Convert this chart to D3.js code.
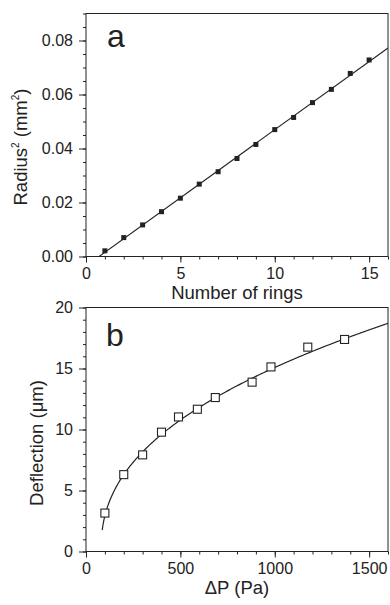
<!DOCTYPE html>
<html>
<head>
<meta charset="utf-8">
<title>Rings and deflection</title>
<script src="https://cdn.jsdelivr.net/npm/d3@7"></script>
<style>
    body { margin: 0; background: #fff; }
    svg { display: block; font-family: "Liberation Sans", Arial, sans-serif; }
    .axis text { fill: #222; font-size: 16px; }
    .axis line { stroke: #222; }
    .axis path { display: none; }
    .title { fill: #222; font-size: 18.5px; }
    .panel-label { fill: #222; font-size: 32px; }
</style>
</head>
<body>
<script>
// panel a: radius^2 against ring number
var ringNumber = [1, 2, 3, 4, 5, 6, 7, 8, 9, 10, 11, 12, 13, 14, 15];
var radiusSq = [0.0021, 0.0070, 0.0117, 0.0166, 0.0216, 0.0268, 0.0314, 0.0363,
                0.0415, 0.0470, 0.0515, 0.0570, 0.0619, 0.0678, 0.0728];
var ringTicks = [0, 5, 10, 15];
var radiusTicks = [0, 0.02, 0.04, 0.06, 0.08];

// panel b: deflection against pressure difference
var pressure = [100, 200, 300, 400, 490, 590, 685, 880, 980, 1175, 1370];
var deflection = [3.15, 6.3, 7.92, 9.78, 11.03, 11.66, 12.62, 13.88, 15.13, 16.75, 17.38];
var pressureTicks = [0, 500, 1000, 1500];
var deflectionTicks = [0, 5, 10, 15, 20];

// fitted curve for b: d = A * (dP - P0)^B, drawn from fitStart
var fitA = 0.81, fitP0 = 80, fitB = 0.4285;
var fitStart = 86;

var width = 390, height = 605;
var left = 86, right = 388;

var svg = d3.select("body").append("svg")
    .attr("width", width)
    .attr("height", height);

function panel(id, top, bottom, xDomain, yDomain, xTicks, yTicks, xMinor, yMinor, yFmt) {
    var x = d3.scaleLinear().domain(xDomain).range([left, right]);
    var y = d3.scaleLinear().domain(yDomain).range([bottom, top]);

    svg.append("clipPath").attr("id", id)
        .append("rect")
        .attr("x", left).attr("y", top)
        .attr("width", right - left).attr("height", bottom - top);

    // minor ticks first
    svg.append("g").attr("class", "axis")
        .attr("transform", "translate(0," + bottom + ")")
        .call(d3.axisBottom(x).tickValues(xMinor).tickSize(3).tickFormat(""));
    svg.append("g").attr("class", "axis")
        .attr("transform", "translate(" + left + ",0)")
        .call(d3.axisLeft(y).tickValues(yMinor).tickSize(3).tickFormat(""));

    svg.append("g").attr("class", "axis")
        .attr("transform", "translate(0," + bottom + ")")
        .call(d3.axisBottom(x).tickValues(xTicks).tickSize(6).tickPadding(5).tickFormat(d3.format("d")));
    svg.append("g").attr("class", "axis")
        .attr("transform", "translate(" + left + ",0)")
        .call(d3.axisLeft(y).tickValues(yTicks).tickSize(7).tickPadding(6).tickFormat(yFmt));

    svg.append("rect")
        .attr("x", left).attr("y", top)
        .attr("width", right - left).attr("height", bottom - top)
        .attr("fill", "none")
        .attr("stroke", "#222")
        .attr("stroke-width", 1);

    return {x: x, y: y, g: svg.append("g").attr("clip-path", "url(#" + id + ")")};
}

// ---- panel a ----
var a = panel("clip-a", 13.5, 256.5, [0, 16], [0, 0.09], ringTicks, radiusTicks,
    d3.range(0, 17, 1), d3.range(0, 0.0901, 0.005), d3.format(".2f"));

// least squares line through the rings
var mx = d3.mean(ringNumber), my = d3.mean(radiusSq);
var sxy = d3.sum(ringNumber, function (d, i) { return (d - mx) * (radiusSq[i] - my); });
var sxx = d3.sum(ringNumber, function (d) { return (d - mx) * (d - mx); });
var slope = sxy / sxx, icpt = my - slope * mx;
var x0 = -icpt / slope;

a.g.append("line")
    .attr("x1", a.x(x0)).attr("y1", a.y(0))
    .attr("x2", a.x(16)).attr("y2", a.y(icpt + slope * 16))
    .attr("stroke", "#222").attr("stroke-width", 1.1);

a.g.selectAll("rect.pt")
    .data(ringNumber)
    .enter().append("rect")
    .attr("class", "pt")
    .attr("x", function (d) { return a.x(d) - 2.5; })
    .attr("y", function (d, i) { return a.y(radiusSq[i]) - 2.5; })
    .attr("width", 5).attr("height", 5)
    .attr("fill", "#222");

svg.append("text").attr("class", "panel-label")
    .attr("x", 107).attr("y", 47).text("a");

svg.append("text").attr("class", "title")
    .attr("x", 237).attr("y", 299)
    .attr("text-anchor", "middle")
    .text("Number of rings");

var ta = svg.append("text").attr("class", "title")
    .attr("transform", "translate(27,147) rotate(-90)")
    .attr("text-anchor", "middle");
ta.append("tspan").text("Radius");
ta.append("tspan").attr("font-size", "10px").attr("dy", -8).text("2");
ta.append("tspan").attr("dy", 8).text(" (mm");
ta.append("tspan").attr("font-size", "10px").attr("dy", -8).text("2");
ta.append("tspan").attr("dy", 8).text(")");

// ---- panel b ----
var b = panel("clip-b", 307.5, 551.5, [0, 1600], [0, 20], pressureTicks, deflectionTicks,
    d3.range(0, 1601, 100), d3.range(0, 20.01, 1), d3.format("d"));

var curveP = [fitStart].concat(d3.range(90, 1605, 5));
var curve = d3.line()
    .x(function (p) { return b.x(p); })
    .y(function (p) { return b.y(fitA * Math.pow(p - fitP0, fitB)); });

b.g.append("path")
    .attr("d", curve(curveP))
    .attr("fill", "none")
    .attr("stroke", "#222")
    .attr("stroke-width", 1.2);

b.g.selectAll("rect.pt")
    .data(pressure)
    .enter().append("rect")
    .attr("class", "pt")
    .attr("x", function (d) { return b.x(d) - 4; })
    .attr("y", function (d, i) { return b.y(deflection[i]) - 4; })
    .attr("width", 8).attr("height", 8)
    .attr("fill", "#fff")
    .attr("stroke", "#222")
    .attr("stroke-width", 1.1);

svg.append("text").attr("class", "panel-label")
    .attr("x", 106).attr("y", 346).text("b");

svg.append("text").attr("class", "title")
    .attr("x", 237).attr("y", 594)
    .attr("text-anchor", "middle")
    .text("\u0394P (Pa)");

svg.append("text").attr("class", "title")
    .attr("transform", "translate(43,443) rotate(-90)")
    .attr("text-anchor", "middle")
    .text("Deflection (\u03bcm)");
</script>
</body>
</html>
